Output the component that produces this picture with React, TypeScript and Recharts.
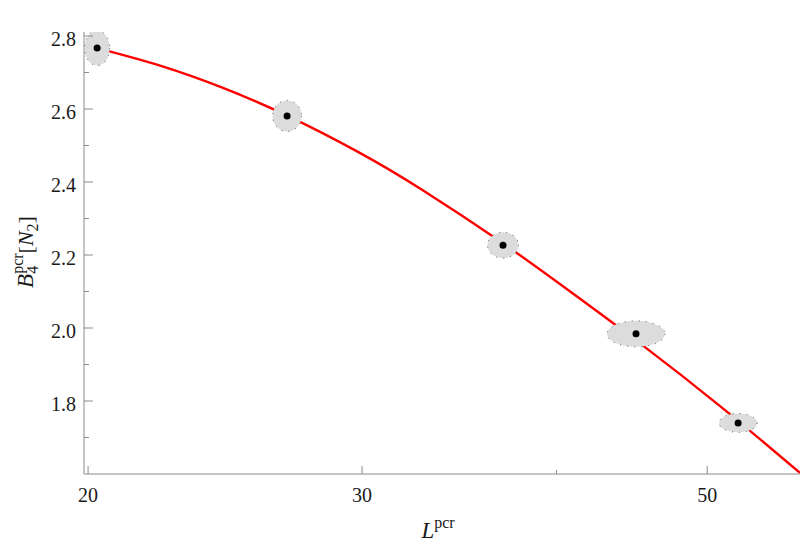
import React from 'react';
import { ComposedChart, Line, Scatter, XAxis, YAxis } from 'recharts';

// measured points with uncertainty (ellipse half-widths)
const lValues = [20.27, 26.85, 36.96, 45.0, 52.34];
const bValues = [2.767, 2.581, 2.227, 1.984, 1.74];
const lErrors = [0.375, 0.576, 0.848, 1.93, 1.47];
const bErrors = [0.048, 0.0425, 0.0356, 0.0356, 0.026];

// fitted curve
const fitL = [20.27, 22.25, 24.42, 26.85, 29.78, 32.84, 36.96, 40.82, 45.27, 50.96, 57.36];
const fitB = [2.767, 2.719, 2.658, 2.582, 2.484, 2.377, 2.232, 2.1, 1.958, 1.786, 1.603];

const xTicks = [20, 30, 40, 50];
const xLabeled = [20, 30, 50];
const yTicks = [1.65, 1.7, 1.75, 1.8, 1.85, 1.9, 1.95, 2.0, 2.05, 2.1, 2.15, 2.2, 2.25, 2.3, 2.35, 2.4, 2.45, 2.5, 2.55, 2.6, 2.65, 2.7, 2.75, 2.8];
const yLabeled = ['1.8', '2.0', '2.2', '2.4', '2.6', '2.8'];

const points = lValues.map((x, i) => ({ x, y: bValues[i], xErr: lErrors[i], yErr: bErrors[i] }));
const fit = fitL.map((x, i) => ({ x, y: fitB[i] }));

const W = 802;
const H = 546;
const M = { top: 32, right: 2, bottom: 0, left: 0 };
const LEFT_W = 84;
const BOTTOM_H = 72;
const X_DOMAIN: [number, number] = [19.88, 57.36];
const Y_DOMAIN: [number, number] = [1.6, 2.811];
const PLOT_W = W - M.left - M.right - LEFT_W;
const PLOT_H = H - M.top - M.bottom - BOTTOM_H;
const PX_PER_LN = PLOT_W / Math.log(X_DOMAIN[1] / X_DOMAIN[0]);
const PX_PER_Y = PLOT_H / (Y_DOMAIN[1] - Y_DOMAIN[0]);

const FRAME = '#8a8a8a';
const TEXT = '#1a1a1a';
const serif = { fontFamily: "'Liberation Serif', 'Times New Roman', serif" };

const XTick = ({ x, y, payload, top }: any) => {
  const major = xLabeled.includes(payload.value);
  const len = major ? 8 : 4;
  return (
    <g>
      <line x1={x} x2={x} y1={y} y2={top ? y + len : y - len} stroke={FRAME} strokeWidth={1} />
      {!top && major && (
        <text x={x} y={y + 28} textAnchor="middle" fontSize={20} style={serif} fill={TEXT}>
          {payload.value}
        </text>
      )}
    </g>
  );
};

const YTick = ({ x, y, payload, right }: any) => {
  const label = payload.value.toFixed(1);
  const major = yLabeled.includes(label) && Math.abs(payload.value * 10 - Math.round(payload.value * 10)) < 1e-6;
  const len = major ? 9 : 5;
  return (
    <g>
      <line x1={x} x2={right ? x - len : x + len} y1={y} y2={y} stroke={FRAME} strokeWidth={1} />
      {!right && major && (
        <text x={x - 8} y={y + 10} textAnchor="end" fontSize={20} style={serif} fill={TEXT}>
          {label}
        </text>
      )}
    </g>
  );
};

const ErrorEllipse = (props: any) => {
  const { cx, cy, payload } = props;
  const rx = (Math.log((payload.x + payload.xErr) / (payload.x - payload.xErr)) / 2) * PX_PER_LN;
  const ry = payload.yErr * PX_PER_Y;
  return (
    <ellipse cx={cx} cy={cy} rx={rx} ry={ry} fill="#dcdcdc" stroke="#555" strokeWidth={1} strokeDasharray="1 6" />
  );
};

const Dot = (props: any) => <circle cx={props.cx} cy={props.cy} r={3.5} fill="#000" />;

const XLabel = ({ viewBox }: any) => (
  <text x={viewBox.x + viewBox.width / 2 - 4} y={viewBox.y + 64} textAnchor="middle" style={serif} fill={TEXT}>
    <tspan fontSize={23} fontStyle="italic">L</tspan>
    <tspan fontSize={16} dy={-10}>pcr</tspan>
  </text>
);

const YLabel = () => (
  <text transform="translate(33,252) rotate(-90)" textAnchor="middle" style={serif} fill={TEXT}>
    <tspan fontSize={23} fontStyle="italic">B</tspan>
    <tspan fontSize={16} dy={5}>4</tspan>
    <tspan fontSize={16} dx={-8} dy={-15}>pcr</tspan>
    <tspan fontSize={22} dy={10}>[</tspan>
    <tspan fontSize={22} fontStyle="italic">N</tspan>
    <tspan fontSize={16} dy={5}>2</tspan>
    <tspan fontSize={22} dy={-5}>]</tspan>
  </text>
);

const App: React.FC = () => {
  return (
    <div style={{ position: 'absolute', left: 0, top: 0, width: W, height: H, background: '#fff' }}>
      <ComposedChart width={W} height={H} margin={M}>
        <XAxis
          xAxisId="bottom"
          dataKey="x"
          type="number"
          scale="log"
          domain={X_DOMAIN}
          allowDataOverflow
          ticks={xTicks}
          tick={<XTick />}
          tickSize={0}
          tickMargin={0}
          height={BOTTOM_H}
          axisLine={{ stroke: FRAME }}
          label={<XLabel />}
        />
        <XAxis
          xAxisId="top"
          orientation="top"
          dataKey="x"
          type="number"
          scale="log"
          domain={X_DOMAIN}
          allowDataOverflow
          ticks={xTicks}
          tick={<XTick top />}
          tickSize={0}
          tickMargin={0}
          height={0}
          axisLine={{ stroke: FRAME }}
        />
        <YAxis
          yAxisId="left"
          type="number"
          domain={Y_DOMAIN}
          allowDataOverflow
          ticks={yTicks}
          tick={<YTick />}
          tickSize={0}
          tickMargin={0}
          width={LEFT_W}
          axisLine={{ stroke: FRAME }}
          label={<YLabel />}
        />
        <YAxis
          yAxisId="right"
          orientation="right"
          type="number"
          domain={Y_DOMAIN}
          allowDataOverflow
          ticks={yTicks}
          tick={<YTick right />}
          tickSize={0}
          tickMargin={0}
          width={0}
          axisLine={{ stroke: FRAME }}
        />
        <Scatter
          xAxisId="bottom"
          yAxisId="left"
          data={points}
          dataKey="y"
          shape={<ErrorEllipse />}
          isAnimationActive={false}
        />
        <Line
          xAxisId="bottom"
          yAxisId="left"
          data={fit}
          dataKey="y"
          type="natural"
          stroke="#f00"
          strokeWidth={2.4}
          dot={false}
          activeDot={false}
          isAnimationActive={false}
        />
        <Scatter
          xAxisId="bottom"
          yAxisId="left"
          data={points}
          dataKey="y"
          shape={<Dot />}
          isAnimationActive={false}
        />
      </ComposedChart>
    </div>
  );
};

export default App;
